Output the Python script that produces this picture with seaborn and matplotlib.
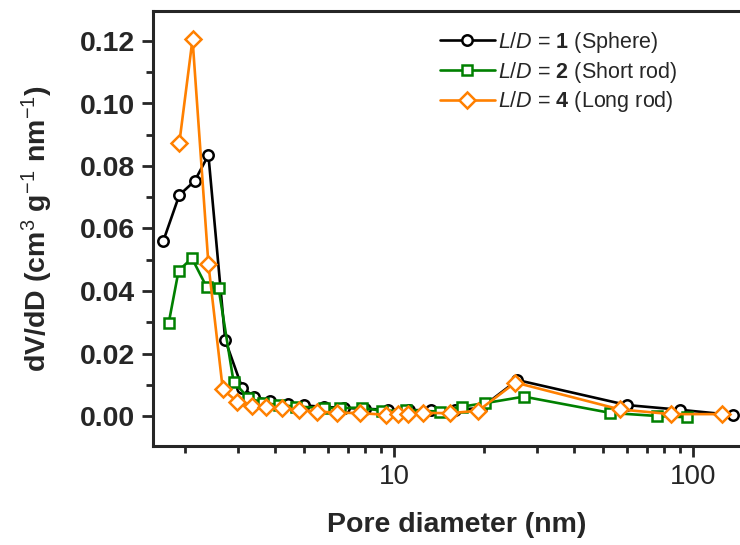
import numpy as np
import pandas as pd
import matplotlib
matplotlib.use("Agg")
import matplotlib.pyplot as plt
import seaborn as sns

# ---------------- data ----------------
sphere_d = [1.69, 1.91, 2.15, 2.39, 2.72, 3.10, 3.40, 3.85, 4.4, 5.0, 5.8, 6.8,
            8.0, 9.5, 11.2, 13.3, 16.0, 19.5, 25.8, 60.0, 90.0, 136.0]
sphere_v = [0.0561, 0.0707, 0.0752, 0.0835, 0.0243, 0.0090, 0.0062, 0.0048, 0.0040,
            0.0034, 0.0029, 0.0026, 0.0023, 0.0020, 0.0019, 0.0018, 0.0019, 0.0026,
            0.0115, 0.0035, 0.0020, 0.0003]

short_d = [1.76, 1.90, 2.105, 2.36, 2.585, 2.90, 3.25, 3.65, 4.1, 4.7, 5.8, 6.6,
           7.8, 9.1, 10.9, 14.2, 16.8, 20.1, 27.1, 52.7, 75.7, 95.3]
short_v = [0.0297, 0.0465, 0.0505, 0.0412, 0.0409, 0.0110, 0.0058, 0.0042, 0.0035,
           0.0030, 0.0026, 0.0025, 0.0027, 0.0016, 0.0019, 0.0014, 0.0030, 0.0041,
           0.0062, 0.0010, 0.0000, -0.0004]

long_d = [1.91, 2.115, 2.39, 2.67, 2.98, 3.34, 3.73, 4.21, 4.81, 5.51, 6.43, 7.69,
          9.4, 10.3, 11.1, 12.5, 15.4, 19.1, 25.4, 56.8, 84.2, 125.0]
long_v = [0.0873, 0.1206, 0.0486, 0.0085, 0.0046, 0.0032, 0.0028, 0.0025, 0.0019,
          0.0014, 0.0011, 0.0009, 0.0004, 0.0005, 0.0005, 0.0010, 0.0009, 0.0017,
          0.0107, 0.0021, 0.0006, 0.0006]

labels = [r"$\it{L/D}$ = $\bf{1}$ (Sphere)",
          r"$\it{L/D}$ = $\bf{2}$ (Short rod)",
          r"$\it{L/D}$ = $\bf{4}$ (Long rod)"]
colors = ["black", "#008000", "#ff8000"]
markers = ["o", "s", "D"]
msizes = [7.5, 7.0, 8.0]

y_ticks = [0.00, 0.02, 0.04, 0.06, 0.08, 0.10, 0.12]
x_ticks = [10, 100]
x_ticklabels = ["10", "100"]

# ---------------- style ----------------
sns.set_style("ticks")
plt.rcParams["font.family"] = ["Liberation Sans", "DejaVu Sans"]
plt.rcParams["mathtext.fontset"] = "custom"
plt.rcParams["mathtext.rm"] = "Liberation Sans"
plt.rcParams["mathtext.it"] = "Liberation Sans:italic"
plt.rcParams["mathtext.bf"] = "Liberation Sans:bold"

fig = plt.figure(figsize=(7.4, 5.45), dpi=100)
W, H = 740, 545
left_px, right_px, top_px, bottom_px = 153, 760, 11, 446
ax = fig.add_axes([left_px / W, 1 - bottom_px / H,
                   (right_px - left_px) / W, (bottom_px - top_px) / H])

series = [(sphere_d, sphere_v), (short_d, short_v), (long_d, long_v)]
for (d, v), lab, c, m, ms in zip(series, labels, colors, markers, msizes):
    df = pd.DataFrame({"d": d, "v": v})
    sns.lineplot(data=df, x="d", y="v", ax=ax, color=c, marker=m, markersize=ms,
                 markerfacecolor="white", markeredgecolor=c, markeredgewidth=1.8,
                 linewidth=1.9, label=lab, sort=False)

ax.set_xscale("log")
ax.set_xlim(1.56, 167)
ax.set_ylim(-0.0096, 0.1296)

ax.set_yticks(y_ticks)
ax.set_yticklabels([f"{t:.2f}" for t in y_ticks], fontsize=20.5, fontweight="bold")
ax.yaxis.set_minor_locator(matplotlib.ticker.MultipleLocator(0.01))
ax.set_xticks(x_ticks)
ax.set_xticklabels(x_ticklabels, fontsize=20)
ax.xaxis.set_minor_locator(matplotlib.ticker.LogLocator(base=10, subs=np.arange(2, 10)))
ax.xaxis.set_minor_formatter(matplotlib.ticker.NullFormatter())

ax.tick_params(axis="both", which="major", direction="out", length=8, width=2, pad=5)
ax.tick_params(axis="both", which="minor", direction="out", length=5, width=2)
for s in ax.spines.values():
    s.set_linewidth(2.2)
    s.set_visible(True)

ax.set_xlabel("Pore diameter (nm)", fontsize=20.5, fontweight="bold", labelpad=16)
ax.set_ylabel(r"dV/dD (cm$^{3}$ g$^{-1}$ nm$^{-1}$)", fontsize=20.5, fontweight="bold",
              labelpad=18)

leg = ax.legend(loc="upper left", bbox_to_anchor=(440 / W, 1 - 30 / H),
                bbox_transform=fig.transFigure, frameon=False, fontsize=15.5,
                handlelength=2.55, handletextpad=0.15, labelspacing=0.22,
                borderpad=0, borderaxespad=0)

fig.savefig("out.png", dpi=100)
